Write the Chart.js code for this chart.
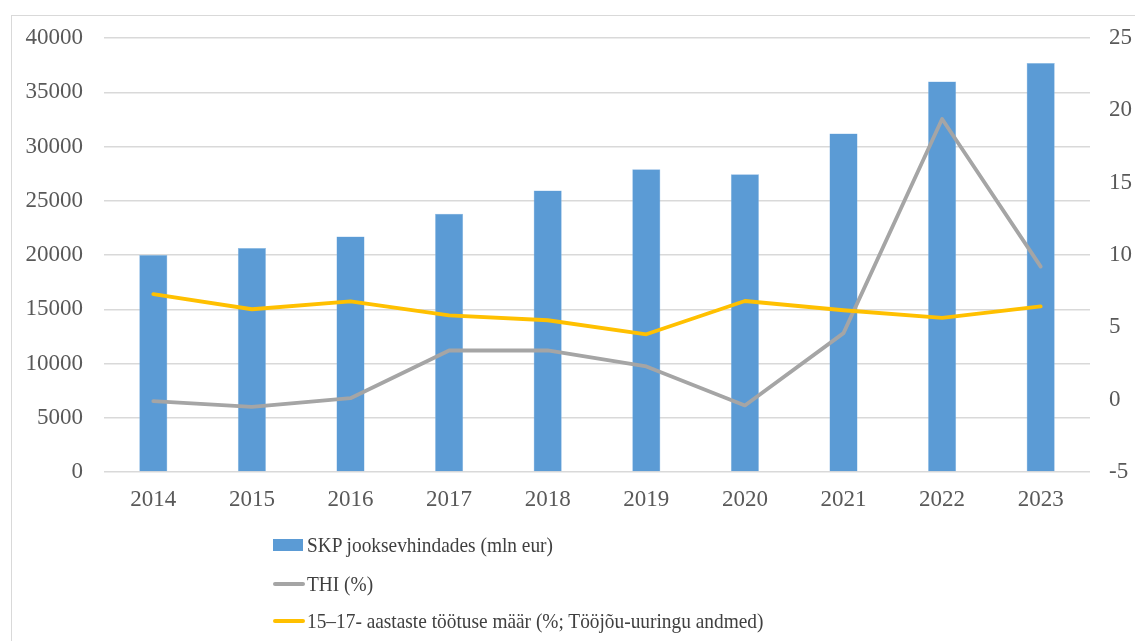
<!DOCTYPE html>
<html>
<head>
<meta charset="utf-8">
<script src="https://cdn.jsdelivr.net/npm/chart.js@4/dist/chart.umd.min.js"></script>
<style>
  html, body { margin: 0; padding: 0; background: #ffffff; }
  body { width: 1135px; height: 641px; position: relative; overflow: hidden; font-family: "Liberation Serif", "Times New Roman", serif; }
  #frame { position: absolute; left: 11px; top: 15px; width: 1200px; height: 700px; border: 1.5px solid #d9d9d9; box-sizing: border-box; }
  #wrap { position: absolute; left: 0; top: 0; width: 1135px; height: 641px; }
  #legend { position: absolute; left: 273px; top: 530px; color: #404040; font-size: 21.5px; }
  .row { position: absolute; left: 0; display: flex; align-items: center; white-space: nowrap; height: 30px; }
  .box { width: 30px; height: 12px; margin-right: 4px; }
  .ln { width: 32px; height: 4px; margin-right: 2px; border-radius: 2px; }
  .txt { display: inline-block; transform: scaleX(0.9); transform-origin: left center; }
</style>
</head>
<body>
<div id="frame"></div>
<div id="wrap"><canvas id="c" width="1135" height="641"></canvas></div>
<div id="legend"></div>
<script>
const categories = ["2014","2015","2016","2017","2018","2019","2020","2021","2022","2023"];
const gdpValues = [20000, 20650, 21700, 23800, 25950, 27900, 27450, 31200, 36000, 37700];
const thiValues = [-0.1, -0.5, 0.1, 3.4, 3.4, 2.3, -0.4, 4.6, 19.4, 9.2];
const youthUnemp = [7.3, 6.25, 6.8, 5.83, 5.49, 4.52, 6.82, 6.18, 5.65, 6.45];
const seriesNames = ["SKP jooksevhindades (mln eur)", "THI (%)", "15–17- aastaste töötuse määr (%; Tööjõu-uuringu andmed)"];
const leftTicks = [0, 5000, 10000, 15000, 20000, 25000, 30000, 35000, 40000];
const rightTicks = [-5, 0, 5, 10, 15, 20, 25];

const BLUE = "#5B9BD5", GRAY = "#A5A5A5", YELLOW = "#FFC000";
const tickFont = { family: "'Liberation Serif', 'Times New Roman', serif", size: 23 };

new Chart(document.getElementById("c"), {
  data: {
    labels: categories,
    datasets: [
      { type: "bar", label: seriesNames[0], data: gdpValues, yAxisID: "y", backgroundColor: BLUE,
        borderColor: "#8dbbe6", borderWidth: 0.5, categoryPercentage: 1, barPercentage: 0.285, order: 3 },
      { type: "line", label: seriesNames[1], data: thiValues, yAxisID: "y1", borderColor: GRAY, backgroundColor: GRAY,
        borderWidth: 3.8, pointRadius: 0, tension: 0, borderCapStyle: "round", borderJoinStyle: "round", order: 2 },
      { type: "line", label: seriesNames[2], data: youthUnemp, yAxisID: "y1", borderColor: YELLOW, backgroundColor: YELLOW,
        borderWidth: 3.8, pointRadius: 0, tension: 0, borderCapStyle: "round", borderJoinStyle: "round", order: 1 }
    ]
  },
  options: {
    responsive: false,
    animation: false,
    devicePixelRatio: 1,
    layout: { padding: { top: 38, left: 0, right: 0, bottom: 0 } },
    plugins: { legend: { display: false }, tooltip: { enabled: false } },
    scales: {
      x: {
        type: "category",
        offset: true,
        grid: { display: false, drawTicks: false },
        border: { display: false },
        ticks: { color: "#595959", font: tickFont, padding: 14, maxRotation: 0 },
        afterFit: s => { s.height = 641 - 472; }
      },
      y: {
        position: "left",
        min: 0, max: 40000,
        afterBuildTicks: s => { s.ticks = leftTicks.map(v => ({ value: v })); },
        grid: { color: "#d9d9d9", lineWidth: 1.5, drawTicks: false },
        border: { display: false },
        ticks: { color: "#595959", font: tickFont, padding: 21, callback: v => String(v) },
        afterFit: s => { s.width = 104; }
      },
      y1: {
        position: "right",
        min: -5, max: 25,
        afterBuildTicks: s => { s.ticks = rightTicks.map(v => ({ value: v })); },
        grid: { display: false, drawTicks: false },
        border: { display: false },
        ticks: { color: "#595959", font: tickFont, padding: 19, callback: v => String(v) },
        afterFit: s => { s.width = 1135 - 1090; }
      }
    }
  }
});

// HTML legend (text kept as real text)
const legend = document.getElementById("legend");
const legendRows = [
  { name: seriesNames[0], kind: "box", color: BLUE, top: 0 },
  { name: seriesNames[1], kind: "ln", color: GRAY, top: 39 },
  { name: seriesNames[2], kind: "ln", color: YELLOW, top: 76 }
];
legendRows.forEach(r => {
  const row = document.createElement("div");
  row.className = "row";
  row.style.top = r.top + "px";
  const m = document.createElement("span");
  m.className = r.kind;
  m.style.background = r.color;
  const t = document.createElement("span");
  t.className = "txt";
  t.textContent = r.name;
  row.appendChild(m);
  row.appendChild(t);
  legend.appendChild(row);
});
</script>
</body>
</html>
